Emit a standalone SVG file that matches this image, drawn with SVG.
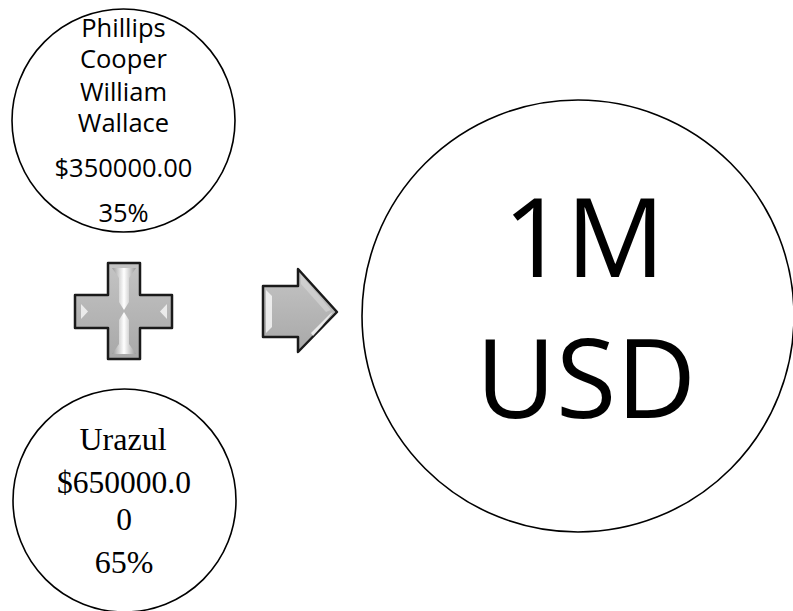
<svg xmlns="http://www.w3.org/2000/svg" width="793" height="611" viewBox="0 0 793 611">
<defs>
<linearGradient id="gv" x1="0" y1="0" x2="1" y2="0">
<stop offset="0" stop-color="#9a9a9a"/><stop offset="0.5" stop-color="#ffffff"/><stop offset="1" stop-color="#9a9a9a"/>
</linearGradient>
<linearGradient id="ga" x1="0" y1="0" x2="0" y2="1">
<stop offset="0" stop-color="#c4c4c4"/><stop offset="1" stop-color="#a8a8a8"/>
</linearGradient>
</defs>
<style>
.node{fill:#fff;stroke:#000;stroke-width:1.6}
.sans{font-family:"Open Sans","Noto Sans",sans-serif;fill:#000;text-anchor:middle}
.serif{font-family:"Liberation Serif","Times New Roman",serif;fill:#000;text-anchor:middle}
.shape{fill:url(#ga);stroke:#1a1a1a;stroke-width:2.5;stroke-linejoin:round}
.hl{fill:#f4f4f4;opacity:0.85}
</style>
<g id="node-top">
<circle class="node" cx="123.5" cy="120.5" r="111.5"/>
<text class="sans" font-size="25.5" x="123.5" y="37">Phillips</text>
<text class="sans" font-size="25.5" x="123.5" y="68">Cooper</text>
<text class="sans" font-size="25.5" x="123.5" y="101">William</text>
<text class="sans" font-size="25.5" x="123.5" y="132">Wallace</text>
<text class="sans" font-size="25.5" x="123.5" y="177">$350000.00</text>
<text class="sans" font-size="25.5" x="123.5" y="222">35%</text>
</g>
<g id="node-bottom">
<circle class="node" cx="124.5" cy="500.5" r="111.5"/>
<text class="serif" font-size="32" x="123" y="450">Urazul</text>
<text class="serif" font-size="31.5" x="124" y="493">$650000.0</text>
<text class="serif" font-size="31.5" x="124" y="530">0</text>
<text class="serif" font-size="32" x="124" y="573">65%</text>
</g>
<g id="node-total">
<circle class="node" cx="578" cy="316" r="216"/>
<text class="sans" font-size="110" x="584" y="277">1M</text>
<text class="sans" font-size="110" x="586" y="418">USD</text>
</g>
<g id="connectors">
<g id="plus">
<path class="shape" d="M108,263 H140 V295 H172 V328 H140 V359 H108 V328 H75 V295 H108 Z"/>
<polygon fill="url(#gv)" points="112,268 136,268 129,278 129,302 124,310 119,302 119,278"/>
<polygon fill="url(#gv)" points="112,354 136,354 129,344 129,320 124,312 119,320 119,344"/>
<polygon class="hl" points="81,304 88,311.5 81,319"/>
<polygon class="hl" points="167,304 160,311.5 167,319"/>
</g>
<g id="arrow">
<path class="shape" d="M263,286 H298 V269 L337,312 L298,352 V337 H263 Z"/>
<polygon class="hl" points="266,290 272,296 272,327 266,333"/>
<polygon class="hl" points="318,326 330,314 333,312 322,326 313,336 311,333"/>
<polygon fill="#d8d8d8" opacity="0.6" points="301,275 331,310 326,312 301,284"/>
</g>
</g>
</svg>
